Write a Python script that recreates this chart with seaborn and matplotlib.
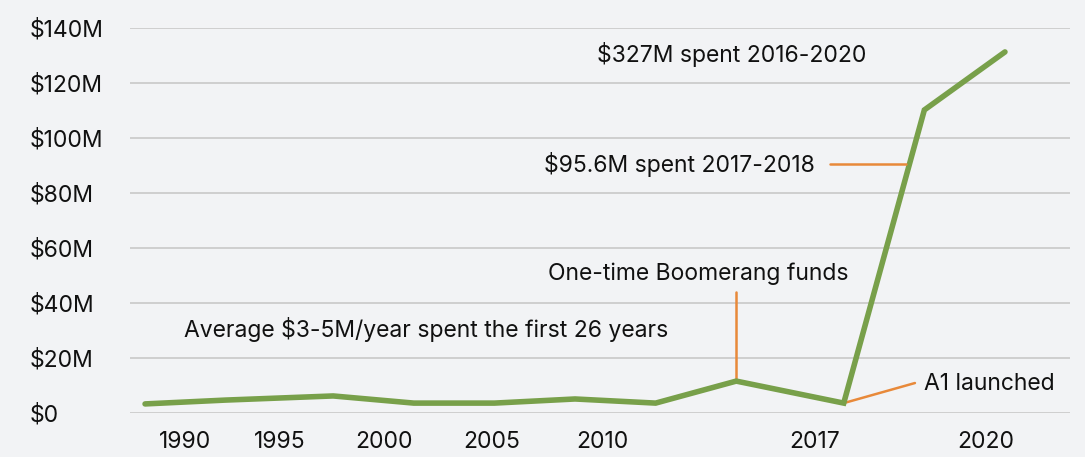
import numpy as np
import pandas as pd
import matplotlib
matplotlib.use("Agg")
import matplotlib.pyplot as plt
import seaborn as sns

# Data
period = [1988, 1991, 1995, 1998, 2001, 2004, 2007, 2010, 2014, 2017, 2020]
spend_m = [3.3, 4.7, 6.2, 3.6, 3.6, 5.1, 3.6, 11.6, 3.6, 110.2, 131.3]
tick_labels = ["1990", "1995", "2000", "2005", "2010", "2017", "2020"]
tick_at = [1989.5, 1993.0, 1996.9, 2000.9, 2005.0, 2012.9, 2019.3]
y_ticks = [0, 20, 40, 60, 80, 100, 120, 140]
y_labels = ["$0"] + [f"${v}M" for v in y_ticks[1:]]

df = pd.DataFrame({"period": period, "spend": spend_m})

bg = "#F2F3F5"
green = "#78A04A"
orange = "#E8893A"
ink = "#111111"

sns.set_theme(style="whitegrid")
plt.rcParams["font.family"] = ["Inter", "DejaVu Sans"]

fig = plt.figure(figsize=(10.85, 4.57), dpi=100, facecolor=bg)
ax = fig.add_axes([130 / 1085, 1 - 413 / 457, 940 / 1085, 385 / 457])
ax.set_facecolor(bg)

sns.lineplot(data=df, x="period", y="spend", color=green, linewidth=4,
             ax=ax, clip_on=False, solid_capstyle="round", solid_joinstyle="miter")

ax.set_xlim(1987.44, 2022.42)
ax.set_ylim(0, 140)
ax.set_xticks(tick_at, tick_labels)
ax.set_yticks(y_ticks, y_labels)
ax.set_xlabel("")
ax.set_ylabel("")
ax.grid(axis="x", visible=False)
ax.grid(axis="y", color="#C8C8C8", linewidth=1.2)
for s in ax.spines.values():
    s.set_visible(False)
ax.tick_params(axis="both", length=0, labelsize=16.5, colors=ink)
ax.tick_params(axis="x", pad=13)
ax.tick_params(axis="y", pad=72)
for lab in ax.get_yticklabels():
    lab.set_horizontalalignment("left")

fs = 16.5
ax.text(2009.84, 130.2, "$327M spent 2016-2020", fontsize=fs, ha="center", va="center", color=ink)
ax.text(2012.93, 90.5, "$95.6M spent 2017-2018", fontsize=fs, ha="right", va="center", color=ink)
ax.plot([2013.49, 2016.32], [90.5, 90.5], color=orange, lw=1.8)
ax.text(2008.58, 50.5, "One-time Boomerang funds", fontsize=fs, ha="center", va="center", color=ink)
ax.plot([2010, 2010], [44, spend_m[7]], color=orange, lw=1.8, zorder=1)
ax.text(1998.46, 30.5, "Average $3-5M/year spent the first 26 years", fontsize=fs,
        ha="center", va="center", color=ink)
ax.text(2016.99, 10.5, "A1 launched", fontsize=fs, ha="left", va="center", color=ink)
ax.plot([2014, 2016.65], [spend_m[8], 10.9], color=orange, lw=1.8, zorder=1)

fig.savefig("out.png", dpi=100, facecolor=bg)
